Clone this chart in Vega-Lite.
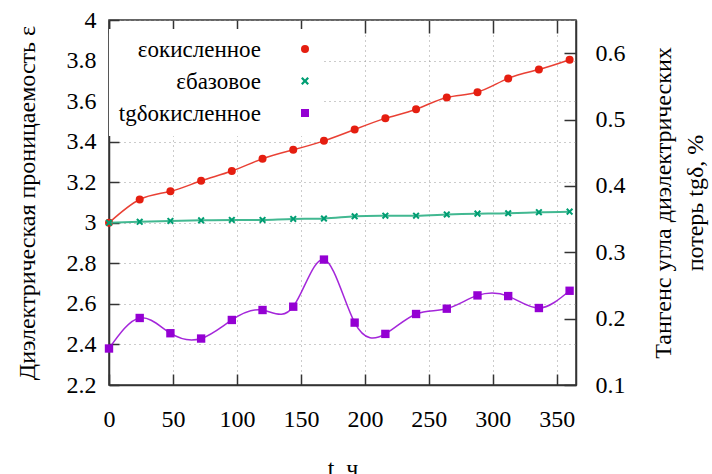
{
  "$schema": "https://vega.github.io/schema/vega-lite/v6.json",
  "width": 467,
  "height": 365,
  "autosize": {"type": "none"},
  "padding": {"left": 109, "top": 20, "right": 136, "bottom": 89},
  "background": "white",
  "data": {
    "values": [
      {"t": 0, "eo": 3.000, "eb": 3.000, "tg": 0.155},
      {"t": 24, "eo": 3.115, "eb": 3.005, "tg": 0.201},
      {"t": 48, "eo": 3.155, "eb": 3.009, "tg": 0.178},
      {"t": 72, "eo": 3.207, "eb": 3.012, "tg": 0.170},
      {"t": 96, "eo": 3.255, "eb": 3.014, "tg": 0.198},
      {"t": 120, "eo": 3.316, "eb": 3.014, "tg": 0.213},
      {"t": 144, "eo": 3.360, "eb": 3.019, "tg": 0.218},
      {"t": 168, "eo": 3.404, "eb": 3.021, "tg": 0.289},
      {"t": 192, "eo": 3.460, "eb": 3.032, "tg": 0.194},
      {"t": 216, "eo": 3.515, "eb": 3.035, "tg": 0.177},
      {"t": 240, "eo": 3.560, "eb": 3.035, "tg": 0.207},
      {"t": 264, "eo": 3.618, "eb": 3.041, "tg": 0.215},
      {"t": 288, "eo": 3.644, "eb": 3.045, "tg": 0.235},
      {"t": 312, "eo": 3.712, "eb": 3.047, "tg": 0.234},
      {"t": 336, "eo": 3.756, "eb": 3.052, "tg": 0.216},
      {"t": 360, "eo": 3.804, "eb": 3.055, "tg": 0.242}
    ]
  },
  "config": {
    "font": "Liberation Serif, Times New Roman, DejaVu Serif, serif",
    "view": {"stroke": "#333333", "strokeWidth": 1.5},
    "axis": {
      "labelFont": "Liberation Serif, Times New Roman, DejaVu Serif, serif",
      "titleFont": "Liberation Serif, Times New Roman, DejaVu Serif, serif",
      "labelFontSize": 24,
      "titleFontSize": 24,
      "titleFontWeight": "normal",
      "labelColor": "black",
      "titleColor": "black",
      "domainColor": "#333333",
      "domainWidth": 1.5,
      "tickColor": "#333333",
      "tickWidth": 1.5,
      "gridColor": "#999999",
      "gridDash": [1, 4],
      "gridWidth": 1,
      "labelFlush": false
    },
    "legend": {
      "labelFont": "Liberation Serif, Times New Roman, DejaVu Serif, serif",
      "titleFont": "Liberation Serif, Times New Roman, DejaVu Serif, serif"
    }
  },
  "layer": [
    {
      "transform": [{"fold": ["eo", "eb"], "as": ["s", "v"]}],
      "encoding": {
        "x": {
          "field": "t",
          "type": "quantitative",
          "scale": {"domain": [0, 365], "nice": false, "zero": false},
          "axis": {
            "orient": "bottom",
            "values": [0, 50, 100, 150, 200, 250, 300, 350],
            "tickSize": -11,
            "grid": true,
            "labelPadding": 33,
            "title": "t, ч",
            "titlePadding": 25
          }
        },
        "y": {
          "field": "v",
          "type": "quantitative",
          "scale": {"domain": [2.2, 4], "nice": false, "zero": false},
          "axis": {
            "orient": "left",
            "values": [2.2, 2.4, 2.6, 2.8, 3, 3.2, 3.4, 3.6, 3.8, 4],
            "format": "~g",
            "tickSize": -10,
            "grid": true,
            "labelPadding": 23,
            "title": "Диэлектрическая проницаемость ε",
            "titlePadding": 27
          }
        }
      },
      "layer": [
        {
          "transform": [{"filter": "datum.s == 'eo'"}],
          "mark": {"type": "line", "color": "#e51e10", "strokeWidth": 1.5, "interpolate": "natural", "opacity": 0.85}
        },
        {
          "transform": [{"filter": "datum.s == 'eo'"}],
          "mark": {"type": "point", "filled": true, "opacity": 1, "size": 64},
          "encoding": {
            "color": {
              "datum": "εокисленное",
              "scale": {"domain": ["εокисленное", "εбазовое", "tgδокисленное"], "range": ["#e51e10", "#009e73", "#9400d3"]},
              "legend": {
                "orient": "none", "legendX": 0, "legendY": 9,
                "fillColor": "white", "padding": 10,
                "title": ["εокисленное", "εбазовое", "tgδокисленное"],
                "titleOrient": "left", "titleAlign": "right", "titleBaseline": "top", "titleAnchor": "start",
                "titleFontSize": 23, "titleLineHeight": 32,
                "titleFontWeight": "normal", "titleColor": "black", "titlePadding": -103,
                "labelExpr": "''", "labelFontSize": 1,
                "clipHeight": 20, "rowPadding": 12, "symbolSize": 64, "symbolStrokeWidth": 0
              }
            },
            "shape": {
              "datum": "εокисленное",
              "scale": {"domain": ["εокисленное", "εбазовое", "tgδокисленное"], "range": ["circle", "M-1,-0.6L-0.6,-1L0,-0.4L0.6,-1L1,-0.6L0.4,0L1,0.6L0.6,1L0,0.4L-0.6,1L-1,0.6L-0.4,0Z", "square"]},
              "legend": {
                "orient": "none", "legendX": 0, "legendY": 9,
                "fillColor": "white", "padding": 10,
                "title": ["εокисленное", "εбазовое", "tgδокисленное"],
                "titleOrient": "left", "titleAlign": "right", "titleBaseline": "top", "titleAnchor": "start",
                "titleFontSize": 23, "titleLineHeight": 32,
                "titleFontWeight": "normal", "titleColor": "black", "titlePadding": -103,
                "labelExpr": "''", "labelFontSize": 1,
                "clipHeight": 20, "rowPadding": 12, "symbolSize": 64, "symbolStrokeWidth": 0
              }
            }
          }
        },
        {
          "transform": [{"filter": "datum.s == 'eb'"}],
          "mark": {"type": "line", "color": "#2eb085", "strokeWidth": 2, "interpolate": "natural", "opacity": 0.9}
        },
        {
          "transform": [{"filter": "datum.s == 'eb'"}],
          "mark": {"type": "point", "filled": true, "opacity": 1, "size": 50},
          "encoding": {
            "color": {"datum": "εбазовое"},
            "shape": {"datum": "εбазовое"}
          }
        }
      ]
    },
    {
      "encoding": {
        "x": {
          "field": "t",
          "type": "quantitative",
          "scale": {"domain": [0, 365], "nice": false, "zero": false},
          "axis": {
            "orient": "top",
            "values": [0, 50, 100, 150, 200, 250, 300, 350],
            "tickSize": -13,
            "grid": false,
            "labels": false,
            "domain": false,
            "title": null
          }
        },
        "y": {
          "field": "tg",
          "type": "quantitative",
          "scale": {"domain": [0.1, 0.65], "nice": false, "zero": false},
          "axis": {
            "orient": "right",
            "values": [0.1, 0.2, 0.3, 0.4, 0.5, 0.6],
            "tickSize": -12,
            "grid": false,
            "labelPadding": 31,
            "title": ["Тангенс угла диэлектрических", "потерь tgδ, %"],
            "titleAngle": 270,
            "titleLineHeight": 32,
            "titlePadding": 18
          }
        }
      },
      "layer": [
        {
          "mark": {"type": "line", "color": "#9400d3", "strokeWidth": 1.5, "interpolate": "natural", "opacity": 0.85}
        },
        {
          "mark": {"type": "point", "filled": true, "opacity": 1, "size": 70},
          "encoding": {
            "color": {"datum": "tgδокисленное"},
            "shape": {"datum": "tgδокисленное"}
          }
        }
      ]
    }
  ],
  "resolve": {"scale": {"y": "independent"}, "axis": {"x": "independent"}}
}
